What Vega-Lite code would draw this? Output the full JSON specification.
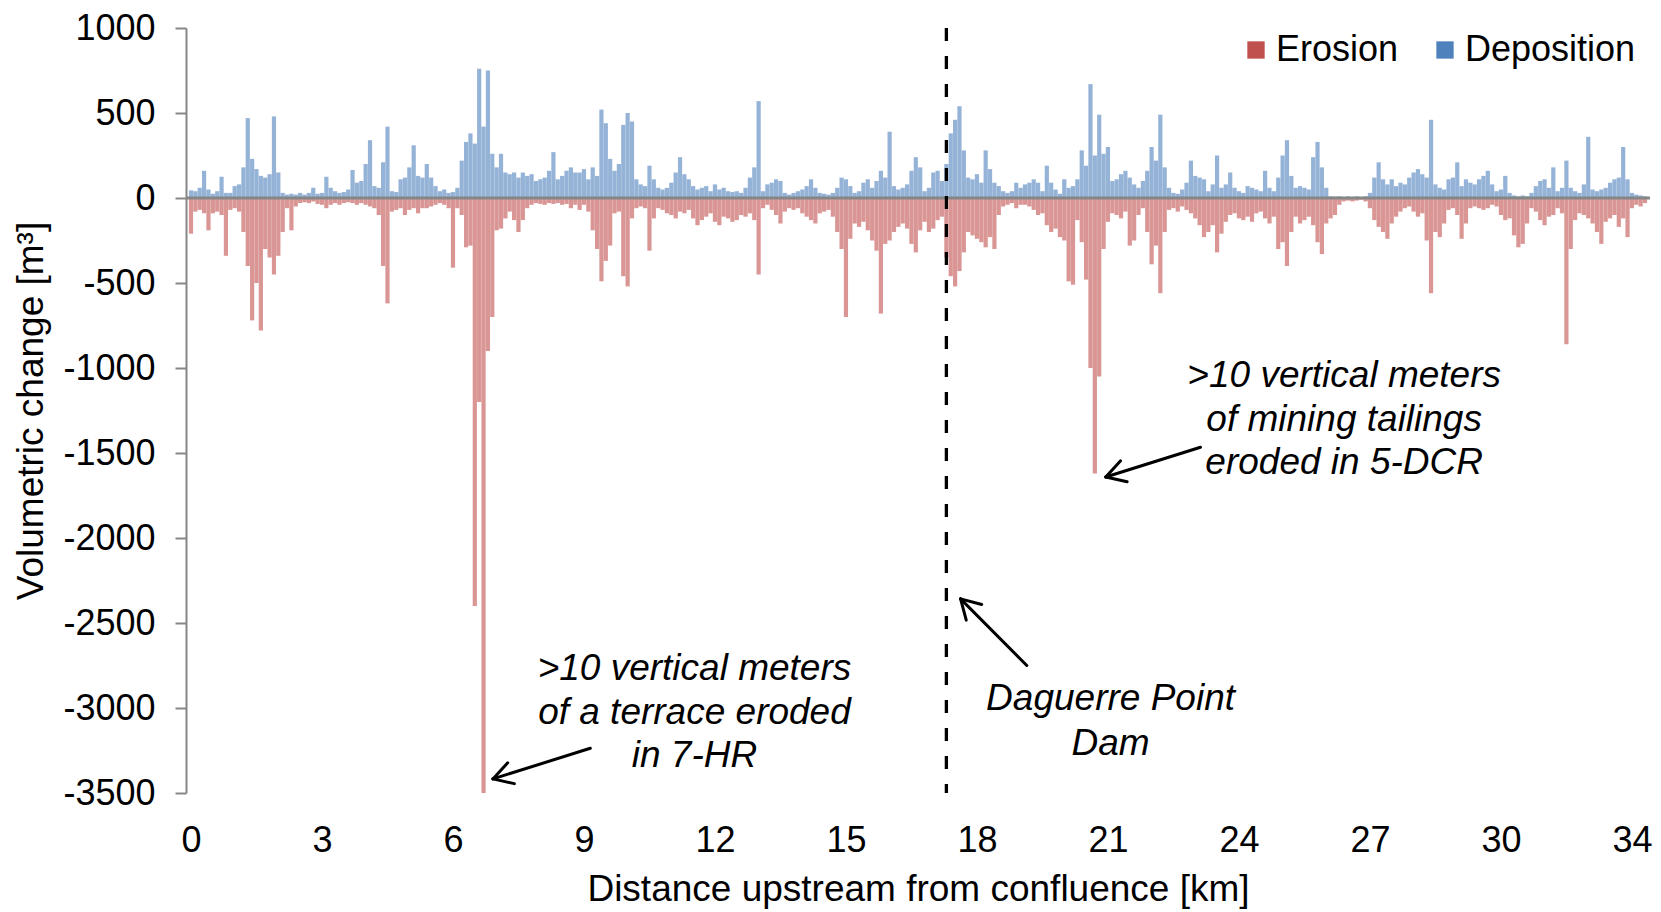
{
"$schema": "https://vega.github.io/schema/vega-lite/v6.json",
"width": 1464, "height": 765,
"autosize": {"type": "none"},
"padding": {"left": 186, "top": 28, "right": 11, "bottom": 119},
"background": "white",
"config": {"view": {"stroke": null}, "font": "Liberation Sans"},
"datasets": {
"vol": [
{"km":0.0,"Erosion":-210,"Deposition":45},{"km":0.1,"Erosion":-80,"Deposition":40},{"km":0.2,"Erosion":-70,"Deposition":60},{"km":0.3,"Erosion":-90,"Deposition":160},{"km":0.4,"Erosion":-190,"Deposition":50},{"km":0.5,"Erosion":-90,"Deposition":25},{"km":0.6,"Erosion":-80,"Deposition":40},{"km":0.7,"Erosion":-100,"Deposition":125},{"km":0.8,"Erosion":-340,"Deposition":30},{"km":0.9,"Erosion":-70,"Deposition":30},
{"km":1.0,"Erosion":-60,"Deposition":70},{"km":1.1,"Erosion":-80,"Deposition":80},{"km":1.2,"Erosion":-200,"Deposition":180},{"km":1.3,"Erosion":-400,"Deposition":470},{"km":1.4,"Erosion":-720,"Deposition":230},{"km":1.5,"Erosion":-500,"Deposition":170},{"km":1.6,"Erosion":-780,"Deposition":130},{"km":1.7,"Erosion":-300,"Deposition":120},{"km":1.8,"Erosion":-350,"Deposition":140},{"km":1.9,"Erosion":-450,"Deposition":480},
{"km":2.0,"Erosion":-340,"Deposition":150},{"km":2.1,"Erosion":-200,"Deposition":30},{"km":2.2,"Erosion":-60,"Deposition":20},{"km":2.3,"Erosion":-190,"Deposition":25},{"km":2.4,"Erosion":-50,"Deposition":20},{"km":2.5,"Erosion":-30,"Deposition":30},{"km":2.6,"Erosion":-25,"Deposition":20},{"km":2.7,"Erosion":-30,"Deposition":30},{"km":2.8,"Erosion":-20,"Deposition":60},{"km":2.9,"Erosion":-35,"Deposition":25},
{"km":3.0,"Erosion":-40,"Deposition":30},{"km":3.1,"Erosion":-60,"Deposition":125},{"km":3.2,"Erosion":-40,"Deposition":60},{"km":3.3,"Erosion":-30,"Deposition":40},{"km":3.4,"Erosion":-40,"Deposition":30},{"km":3.5,"Erosion":-30,"Deposition":35},{"km":3.6,"Erosion":-25,"Deposition":50},{"km":3.7,"Erosion":-30,"Deposition":165},{"km":3.8,"Erosion":-40,"Deposition":90},{"km":3.9,"Erosion":-30,"Deposition":100},
{"km":4.0,"Erosion":-40,"Deposition":200},{"km":4.1,"Erosion":-50,"Deposition":340},{"km":4.2,"Erosion":-60,"Deposition":70},{"km":4.3,"Erosion":-100,"Deposition":60},{"km":4.4,"Erosion":-400,"Deposition":210},{"km":4.5,"Erosion":-620,"Deposition":420},{"km":4.6,"Erosion":-80,"Deposition":40},{"km":4.7,"Erosion":-70,"Deposition":35},{"km":4.8,"Erosion":-60,"Deposition":110},{"km":4.9,"Erosion":-100,"Deposition":120},
{"km":5.0,"Erosion":-70,"Deposition":180},{"km":5.1,"Erosion":-60,"Deposition":310},{"km":5.2,"Erosion":-90,"Deposition":130},{"km":5.3,"Erosion":-60,"Deposition":120},{"km":5.4,"Erosion":-60,"Deposition":200},{"km":5.5,"Erosion":-50,"Deposition":120},{"km":5.6,"Erosion":-40,"Deposition":70},{"km":5.7,"Erosion":-30,"Deposition":40},{"km":5.8,"Erosion":-40,"Deposition":50},{"km":5.9,"Erosion":-60,"Deposition":30},
{"km":6.0,"Erosion":-410,"Deposition":35},{"km":6.1,"Erosion":-60,"Deposition":60},{"km":6.2,"Erosion":-100,"Deposition":220},{"km":6.3,"Erosion":-290,"Deposition":330},{"km":6.4,"Erosion":-280,"Deposition":380},{"km":6.5,"Erosion":-2400,"Deposition":320},{"km":6.6,"Erosion":-1200,"Deposition":760},{"km":6.7,"Erosion":-3500,"Deposition":420},{"km":6.8,"Erosion":-900,"Deposition":750},{"km":6.9,"Erosion":-700,"Deposition":260},
{"km":7.0,"Erosion":-190,"Deposition":180},{"km":7.1,"Erosion":-180,"Deposition":260},{"km":7.2,"Erosion":-120,"Deposition":150},{"km":7.3,"Erosion":-80,"Deposition":140},{"km":7.4,"Erosion":-130,"Deposition":150},{"km":7.5,"Erosion":-200,"Deposition":120},{"km":7.6,"Erosion":-130,"Deposition":150},{"km":7.7,"Erosion":-60,"Deposition":130},{"km":7.8,"Erosion":-40,"Deposition":140},{"km":7.9,"Erosion":-30,"Deposition":100},
{"km":8.0,"Erosion":-35,"Deposition":110},{"km":8.1,"Erosion":-40,"Deposition":120},{"km":8.2,"Erosion":-30,"Deposition":160},{"km":8.3,"Erosion":-35,"Deposition":270},{"km":8.4,"Erosion":-30,"Deposition":110},{"km":8.5,"Erosion":-40,"Deposition":130},{"km":8.6,"Erosion":-35,"Deposition":160},{"km":8.7,"Erosion":-60,"Deposition":180},{"km":8.8,"Erosion":-40,"Deposition":150},{"km":8.9,"Erosion":-70,"Deposition":150},
{"km":9.0,"Erosion":-40,"Deposition":170},{"km":9.1,"Erosion":-80,"Deposition":110},{"km":9.2,"Erosion":-190,"Deposition":180},{"km":9.3,"Erosion":-300,"Deposition":130},{"km":9.4,"Erosion":-490,"Deposition":520},{"km":9.5,"Erosion":-370,"Deposition":440},{"km":9.6,"Erosion":-280,"Deposition":230},{"km":9.7,"Erosion":-90,"Deposition":160},{"km":9.8,"Erosion":-80,"Deposition":200},{"km":9.9,"Erosion":-460,"Deposition":430},
{"km":10.0,"Erosion":-520,"Deposition":500},{"km":10.1,"Erosion":-120,"Deposition":450},{"km":10.2,"Erosion":-60,"Deposition":110},{"km":10.3,"Erosion":-50,"Deposition":80},{"km":10.4,"Erosion":-60,"Deposition":70},{"km":10.5,"Erosion":-310,"Deposition":190},{"km":10.6,"Erosion":-120,"Deposition":110},{"km":10.7,"Erosion":-60,"Deposition":60},{"km":10.8,"Erosion":-70,"Deposition":50},{"km":10.9,"Erosion":-90,"Deposition":60},
{"km":11.0,"Erosion":-100,"Deposition":90},{"km":11.1,"Erosion":-120,"Deposition":150},{"km":11.2,"Erosion":-80,"Deposition":240},{"km":11.3,"Erosion":-90,"Deposition":140},{"km":11.4,"Erosion":-70,"Deposition":110},{"km":11.5,"Erosion":-120,"Deposition":70},{"km":11.6,"Erosion":-160,"Deposition":50},{"km":11.7,"Erosion":-130,"Deposition":60},{"km":11.8,"Erosion":-110,"Deposition":70},{"km":11.9,"Erosion":-90,"Deposition":40},
{"km":12.0,"Erosion":-140,"Deposition":80},{"km":12.1,"Erosion":-160,"Deposition":50},{"km":12.2,"Erosion":-110,"Deposition":60},{"km":12.3,"Erosion":-120,"Deposition":40},{"km":12.4,"Erosion":-140,"Deposition":35},{"km":12.5,"Erosion":-130,"Deposition":40},{"km":12.6,"Erosion":-100,"Deposition":30},{"km":12.7,"Erosion":-110,"Deposition":60},{"km":12.8,"Erosion":-90,"Deposition":120},{"km":12.9,"Erosion":-130,"Deposition":180},
{"km":13.0,"Erosion":-450,"Deposition":570},{"km":13.1,"Erosion":-60,"Deposition":40},{"km":13.2,"Erosion":-40,"Deposition":80},{"km":13.3,"Erosion":-70,"Deposition":90},{"km":13.4,"Erosion":-100,"Deposition":110},{"km":13.5,"Erosion":-150,"Deposition":100},{"km":13.6,"Erosion":-80,"Deposition":30},{"km":13.7,"Erosion":-60,"Deposition":20},{"km":13.8,"Erosion":-70,"Deposition":30},{"km":13.9,"Erosion":-60,"Deposition":40},
{"km":14.0,"Erosion":-90,"Deposition":50},{"km":14.1,"Erosion":-110,"Deposition":70},{"km":14.2,"Erosion":-130,"Deposition":110},{"km":14.3,"Erosion":-150,"Deposition":60},{"km":14.4,"Erosion":-90,"Deposition":30},{"km":14.5,"Erosion":-80,"Deposition":25},{"km":14.6,"Erosion":-70,"Deposition":20},{"km":14.7,"Erosion":-110,"Deposition":30},{"km":14.8,"Erosion":-200,"Deposition":60},{"km":14.9,"Erosion":-300,"Deposition":120},
{"km":15.0,"Erosion":-700,"Deposition":110},{"km":15.1,"Erosion":-240,"Deposition":70},{"km":15.2,"Erosion":-150,"Deposition":30},{"km":15.3,"Erosion":-170,"Deposition":40},{"km":15.4,"Erosion":-140,"Deposition":90},{"km":15.5,"Erosion":-190,"Deposition":110},{"km":15.6,"Erosion":-250,"Deposition":60},{"km":15.7,"Erosion":-310,"Deposition":100},{"km":15.8,"Erosion":-680,"Deposition":160},{"km":15.9,"Erosion":-270,"Deposition":120},
{"km":16.0,"Erosion":-250,"Deposition":390},{"km":16.1,"Erosion":-200,"Deposition":70},{"km":16.2,"Erosion":-170,"Deposition":50},{"km":16.3,"Erosion":-150,"Deposition":60},{"km":16.4,"Erosion":-180,"Deposition":80},{"km":16.5,"Erosion":-270,"Deposition":160},{"km":16.6,"Erosion":-320,"Deposition":240},{"km":16.7,"Erosion":-190,"Deposition":180},{"km":16.8,"Erosion":-140,"Deposition":40},{"km":16.9,"Erosion":-200,"Deposition":60},
{"km":17.0,"Erosion":-180,"Deposition":150},{"km":17.1,"Erosion":-130,"Deposition":160},{"km":17.2,"Erosion":-110,"Deposition":100},{"km":17.3,"Erosion":-350,"Deposition":200},{"km":17.4,"Erosion":-460,"Deposition":380},{"km":17.5,"Erosion":-520,"Deposition":460},{"km":17.6,"Erosion":-430,"Deposition":540},{"km":17.7,"Erosion":-320,"Deposition":280},{"km":17.8,"Erosion":-200,"Deposition":120},{"km":17.9,"Erosion":-220,"Deposition":110},
{"km":18.0,"Erosion":-240,"Deposition":140},{"km":18.1,"Erosion":-260,"Deposition":90},{"km":18.2,"Erosion":-290,"Deposition":280},{"km":18.3,"Erosion":-230,"Deposition":170},{"km":18.4,"Erosion":-300,"Deposition":90},{"km":18.5,"Erosion":-100,"Deposition":70},{"km":18.6,"Erosion":-50,"Deposition":40},{"km":18.7,"Erosion":-40,"Deposition":30},{"km":18.8,"Erosion":-30,"Deposition":40},{"km":18.9,"Erosion":-60,"Deposition":90},
{"km":19.0,"Erosion":-40,"Deposition":60},{"km":19.1,"Erosion":-40,"Deposition":80},{"km":19.2,"Erosion":-50,"Deposition":90},{"km":19.3,"Erosion":-70,"Deposition":110},{"km":19.4,"Erosion":-100,"Deposition":90},{"km":19.5,"Erosion":-90,"Deposition":40},{"km":19.6,"Erosion":-160,"Deposition":190},{"km":19.7,"Erosion":-200,"Deposition":90},{"km":19.8,"Erosion":-180,"Deposition":50},{"km":19.9,"Erosion":-230,"Deposition":25},
{"km":20.0,"Erosion":-250,"Deposition":110},{"km":20.1,"Erosion":-490,"Deposition":60},{"km":20.2,"Erosion":-510,"Deposition":70},{"km":20.3,"Erosion":-130,"Deposition":110},{"km":20.4,"Erosion":-260,"Deposition":280},{"km":20.5,"Erosion":-480,"Deposition":190},{"km":20.6,"Erosion":-1000,"Deposition":670},{"km":20.7,"Erosion":-1620,"Deposition":250},{"km":20.8,"Erosion":-1050,"Deposition":490},{"km":20.9,"Erosion":-300,"Deposition":260},
{"km":21.0,"Erosion":-140,"Deposition":300},{"km":21.1,"Erosion":-90,"Deposition":100},{"km":21.2,"Erosion":-100,"Deposition":110},{"km":21.3,"Erosion":-120,"Deposition":140},{"km":21.4,"Erosion":-80,"Deposition":160},{"km":21.5,"Erosion":-280,"Deposition":120},{"km":21.6,"Erosion":-250,"Deposition":80},{"km":21.7,"Erosion":-100,"Deposition":60},{"km":21.8,"Erosion":-60,"Deposition":100},{"km":21.9,"Erosion":-200,"Deposition":160},
{"km":22.0,"Erosion":-390,"Deposition":300},{"km":22.1,"Erosion":-280,"Deposition":220},{"km":22.2,"Erosion":-560,"Deposition":490},{"km":22.3,"Erosion":-200,"Deposition":180},{"km":22.4,"Erosion":-70,"Deposition":60},{"km":22.5,"Erosion":-60,"Deposition":30},{"km":22.6,"Erosion":-80,"Deposition":25},{"km":22.7,"Erosion":-50,"Deposition":50},{"km":22.8,"Erosion":-70,"Deposition":90},{"km":22.9,"Erosion":-90,"Deposition":220},
{"km":23.0,"Erosion":-120,"Deposition":130},{"km":23.1,"Erosion":-160,"Deposition":120},{"km":23.2,"Erosion":-230,"Deposition":110},{"km":23.3,"Erosion":-200,"Deposition":40},{"km":23.4,"Erosion":-160,"Deposition":80},{"km":23.5,"Erosion":-320,"Deposition":250},{"km":23.6,"Erosion":-210,"Deposition":60},{"km":23.7,"Erosion":-140,"Deposition":80},{"km":23.8,"Erosion":-100,"Deposition":150},{"km":23.9,"Erosion":-90,"Deposition":60},
{"km":24.0,"Erosion":-120,"Deposition":40},{"km":24.1,"Erosion":-130,"Deposition":30},{"km":24.2,"Erosion":-110,"Deposition":70},{"km":24.3,"Erosion":-140,"Deposition":60},{"km":24.4,"Erosion":-90,"Deposition":50},{"km":24.5,"Erosion":-80,"Deposition":40},{"km":24.6,"Erosion":-120,"Deposition":160},{"km":24.7,"Erosion":-150,"Deposition":60},{"km":24.8,"Erosion":-110,"Deposition":40},{"km":24.9,"Erosion":-300,"Deposition":120},
{"km":25.0,"Erosion":-260,"Deposition":250},{"km":25.1,"Erosion":-400,"Deposition":340},{"km":25.2,"Erosion":-200,"Deposition":130},{"km":25.3,"Erosion":-110,"Deposition":60},{"km":25.4,"Erosion":-150,"Deposition":70},{"km":25.5,"Erosion":-130,"Deposition":60},{"km":25.6,"Erosion":-110,"Deposition":50},{"km":25.7,"Erosion":-160,"Deposition":240},{"km":25.8,"Erosion":-260,"Deposition":330},{"km":25.9,"Erosion":-330,"Deposition":180},
{"km":26.0,"Erosion":-150,"Deposition":60},{"km":26.1,"Erosion":-120,"Deposition":10},{"km":26.2,"Erosion":-100,"Deposition":8},{"km":26.3,"Erosion":-40,"Deposition":10},{"km":26.4,"Erosion":-20,"Deposition":5},{"km":26.5,"Erosion":-15,"Deposition":10},{"km":26.6,"Erosion":-20,"Deposition":5},{"km":26.7,"Erosion":-15,"Deposition":10},{"km":26.8,"Erosion":-10,"Deposition":5},{"km":26.9,"Erosion":-20,"Deposition":10},
{"km":27.0,"Erosion":-60,"Deposition":30},{"km":27.1,"Erosion":-130,"Deposition":120},{"km":27.2,"Erosion":-170,"Deposition":210},{"km":27.3,"Erosion":-200,"Deposition":110},{"km":27.4,"Erosion":-240,"Deposition":80},{"km":27.5,"Erosion":-150,"Deposition":110},{"km":27.6,"Erosion":-110,"Deposition":70},{"km":27.7,"Erosion":-80,"Deposition":90},{"km":27.8,"Erosion":-60,"Deposition":80},{"km":27.9,"Erosion":-50,"Deposition":120},
{"km":28.0,"Erosion":-80,"Deposition":150},{"km":28.1,"Erosion":-110,"Deposition":170},{"km":28.2,"Erosion":-90,"Deposition":140},{"km":28.3,"Erosion":-250,"Deposition":120},{"km":28.4,"Erosion":-560,"Deposition":460},{"km":28.5,"Erosion":-200,"Deposition":80},{"km":28.6,"Erosion":-230,"Deposition":60},{"km":28.7,"Erosion":-150,"Deposition":50},{"km":28.8,"Erosion":-70,"Deposition":110},{"km":28.9,"Erosion":-60,"Deposition":120},
{"km":29.0,"Erosion":-100,"Deposition":210},{"km":29.1,"Erosion":-240,"Deposition":70},{"km":29.2,"Erosion":-150,"Deposition":110},{"km":29.3,"Erosion":-60,"Deposition":90},{"km":29.4,"Erosion":-50,"Deposition":80},{"km":29.5,"Erosion":-60,"Deposition":110},{"km":29.6,"Erosion":-70,"Deposition":130},{"km":29.7,"Erosion":-60,"Deposition":160},{"km":29.8,"Erosion":-40,"Deposition":80},{"km":29.9,"Erosion":-50,"Deposition":40},
{"km":30.0,"Erosion":-100,"Deposition":50},{"km":30.1,"Erosion":-130,"Deposition":130},{"km":30.2,"Erosion":-120,"Deposition":30},{"km":30.3,"Erosion":-220,"Deposition":15},{"km":30.4,"Erosion":-290,"Deposition":10},{"km":30.5,"Erosion":-270,"Deposition":15},{"km":30.6,"Erosion":-150,"Deposition":10},{"km":30.7,"Erosion":-60,"Deposition":30},{"km":30.8,"Erosion":-80,"Deposition":70},{"km":30.9,"Erosion":-130,"Deposition":100},
{"km":31.0,"Erosion":-160,"Deposition":110},{"km":31.1,"Erosion":-110,"Deposition":60},{"km":31.2,"Erosion":-100,"Deposition":180},{"km":31.3,"Erosion":-60,"Deposition":40},{"km":31.4,"Erosion":-90,"Deposition":60},{"km":31.5,"Erosion":-860,"Deposition":220},{"km":31.6,"Erosion":-300,"Deposition":60},{"km":31.7,"Erosion":-130,"Deposition":40},{"km":31.8,"Erosion":-90,"Deposition":30},{"km":31.9,"Erosion":-100,"Deposition":80},
{"km":32.0,"Erosion":-120,"Deposition":360},{"km":32.1,"Erosion":-150,"Deposition":50},{"km":32.2,"Erosion":-200,"Deposition":40},{"km":32.3,"Erosion":-270,"Deposition":50},{"km":32.4,"Erosion":-140,"Deposition":60},{"km":32.5,"Erosion":-120,"Deposition":90},{"km":32.6,"Erosion":-100,"Deposition":110},{"km":32.7,"Erosion":-170,"Deposition":120},{"km":32.8,"Erosion":-120,"Deposition":300},{"km":32.9,"Erosion":-230,"Deposition":110},
{"km":33.0,"Erosion":-60,"Deposition":30},{"km":33.1,"Erosion":-40,"Deposition":20},{"km":33.2,"Erosion":-50,"Deposition":15},{"km":33.3,"Erosion":-30,"Deposition":10}
],
"arrows": [
{"x1":6.915,"y1":-3417,"x2":9.145,"y2":-3237},{"x1":6.915,"y1":-3417,"x2":7.405,"y2":-3445},{"x1":6.915,"y1":-3417,"x2":7.254,"y2":-3322},
{"x1":17.625,"y1":-2358,"x2":19.142,"y2":-2750},{"x1":17.625,"y1":-2358,"x2":17.755,"y2":-2483},{"x1":17.625,"y1":-2358,"x2":18.11,"y2":-2391},
{"x1":20.95,"y1":-1641,"x2":23.12,"y2":-1466},{"x1":20.95,"y1":-1641,"x2":21.44,"y2":-1669},{"x1":20.95,"y1":-1641,"x2":21.29,"y2":-1546}
],
"notes": [
{"km":11.53,"v":-2772,"label":">10 vertical meters"},{"km":11.53,"v":-3031,"label":"of a terrace eroded"},{"km":11.53,"v":-3284,"label":"in 7-HR"},
{"km":21.06,"v":-2949,"label":"Daguerre Point"},{"km":21.06,"v":-3214,"label":"Dam"},
{"km":26.41,"v":-1049,"label":">10 vertical meters"},{"km":26.41,"v":-1305,"label":"of mining tailings"},{"km":26.41,"v":-1560,"label":"eroded in 5-DCR"}
],
"dam": [{"km":17.3,"top":1000,"bottom":-3500}]
},
"layer": [
{
"data": {"name": "vol"},
"transform": [{"fold": ["Erosion","Deposition"], "as": ["type","v"]}],
"mark": {"type": "bar", "size": 4.2, "opacity": 0.6},
"encoding": {
"x": {"field": "km", "type": "quantitative", "scale": {"domain": [0, 33.3], "nice": false, "zero": false},
"axis": {"values": [0,3,6,9,12,15,18,21,24,27,30,33], "labelExpr": "datum.value == 33 ? '34' : '' + datum.value", "domain": false, "ticks": false, "tickSize": 0, "grid": false, "labelFontSize": 36, "labelColor": "#000000", "labelFont": "Liberation Sans", "labelPadding": 30, "title": "Distance upstream from confluence [km]", "titleFontSize": 37, "titleFontWeight": "normal", "titleColor": "#000000", "titleFont": "Liberation Sans", "titlePadding": 13}},
"y": {"field": "v", "type": "quantitative", "scale": {"domain": [-3500, 1000], "nice": false},
"axis": {"values": [-3500,-3000,-2500,-2000,-1500,-1000,-500,0,500,1000], "labelExpr": "'' + datum.value", "grid": false, "domainColor": "#868686", "domainWidth": 2, "tickColor": "#868686", "tickWidth": 2, "tickSize": 11, "labelFontSize": 36, "labelColor": "#000000", "labelFont": "Liberation Sans", "labelPadding": 20, "title": "Volumetric change [m³]", "titleFontSize": 37, "titleFontWeight": "normal", "titleColor": "#000000", "titleFont": "Liberation Sans", "titlePadding": 12}},
"color": {"field": "type", "type": "nominal", "scale": {"domain": ["Erosion","Deposition"], "range": ["#C0504D","#4F81BD"]},
"legend": {"title": null, "orient": "none", "legendX": 1052, "legendY": 4, "direction": "horizontal", "symbolType": "square", "symbolSize": 300, "symbolOpacity": 1, "symbolStrokeWidth": 0, "labelFontSize": 36, "labelFont": "Liberation Sans", "labelColor": "#000000", "labelOffset": 2, "labelLimit": 0, "columnPadding": 28}}
}
},
{
"data": {"values": [{"z": 0}]},
"mark": {"type": "rule", "color": "#868686", "strokeWidth": 3},
"encoding": {"y": {"field": "z", "type": "quantitative"}}
},
{
"data": {"name": "dam"},
"mark": {"type": "rule", "color": "#000000", "strokeWidth": 3.3, "strokeDash": [13, 15]},
"encoding": {"x": {"field": "km", "type": "quantitative"}, "y": {"field": "top", "type": "quantitative"}, "y2": {"field": "bottom"}}
},
{
"data": {"name": "arrows"},
"mark": {"type": "rule", "color": "#000000", "strokeWidth": 3, "strokeCap": "round"},
"encoding": {"x": {"field": "x1", "type": "quantitative"}, "y": {"field": "y1", "type": "quantitative"}, "x2": {"field": "x2"}, "y2": {"field": "y2"}}
},
{
"data": {"name": "notes"},
"mark": {"type": "text", "font": "Liberation Sans", "fontSize": 37, "fontStyle": "italic", "align": "center", "baseline": "middle", "color": "#000000"},
"encoding": {"x": {"field": "km", "type": "quantitative"}, "y": {"field": "v", "type": "quantitative"}, "text": {"field": "label"}}
}
]
}
